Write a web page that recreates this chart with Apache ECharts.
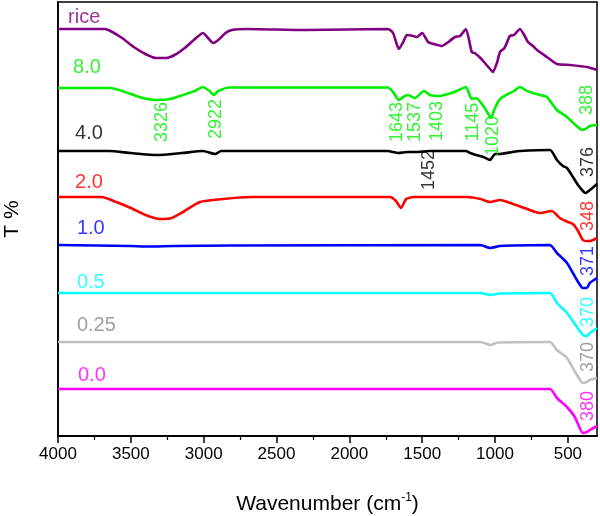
<!DOCTYPE html>
<html><head><meta charset="utf-8">
<script src="https://cdn.jsdelivr.net/npm/echarts@6/dist/echarts.min.js"></script>
<style>html,body{margin:0;padding:0;background:#fff}#c{width:600px;height:516px}</style>
</head><body><div id="c"></div>
<script>
// Wavenumber (cm-1) / offset transmittance pairs
const rice = [[4000,407],[3677,407],[3640,405],[3560,398],[3480,389],[3400,382],[3330,378],[3260,378],[3200,381],[3130,388],[3060,397],[3005,403],[2970,398],[2936,393],[2900,396],[2850,403],[2806,406],[2700,407],[2300,406],[1735,407],[1700,403],[1660,387],[1630,394],[1605,401],[1560,400],[1537,399],[1500,403],[1460,394],[1420,392],[1365,390],[1320,394],[1275,399],[1240,400],[1200,407],[1160,384],[1140,383],[1100,378],[1070,373],[1040,368],[1015,364],[985,374],[966,384],[935,388],[898,400],[870,401],[829,407],[800,401],[774,394],[740,390],[712,386],[644,379],[575,372],[486,371],[370,369],[300,366]];
const s80 = [[4000,348],[3643,348],[3580,346],[3500,342],[3420,338],[3320,336],[3230,337],[3142,341],[3060,345],[3005,349],[2960,345],[2929,341],[2900,345],[2820,348.5],[1735,348.5],[1700,344],[1660,336],[1630,339],[1598,341],[1550,338],[1488,345],[1447,341],[1378,340],[1300,343],[1262,345],[1200,349],[1160,337],[1130,338],[1080,330],[1050,323],[1028,318],[1000,328],[966,337],[911,342],[870,345],[829,349],[780,345],[740,343],[690,341],[644,339],[575,326],[506,319],[440,310],[403,306],[380,307],[349,310],[300,311]];
const s40 = [[4000,285],[3650,285],[3500,283],[3320,281],[3150,283],[3005,285],[2922,282],[2880,285],[1735,285],[1700,284],[1665,283],[1600,284],[1537,284],[1452,285],[1200,285],[1170,283],[1130,281],[1080,279],[1035,276],[1000,282],[966,282],[880,284],[829,285],[623,286],[575,276],[534,270],[506,268],[465,259],[430,251],[397,245],[380,243],[349,246],[300,252]];
const s20 = [[4000,239],[3700,239],[3600,234],[3500,228],[3400,221],[3300,217],[3220,218],[3142,224],[3025,234],[2867,237],[2680,239],[1721,239],[1680,235],[1646,228],[1610,237],[1560,239],[1467,239],[1193,239],[1100,237],[1035,234],[966,236],[877,232],[780,227],[692,223],[610,225],[555,218],[500,214],[465,212],[430,205],[397,196],[370,195],[349,195],[300,198]];
const s10 = [[4000,191],[3500,190],[3400,189.5],[3200,190],[2800,190.5],[1100,191],[1035,188],[966,190],[880,190.5],[623,191],[575,183],[506,173],[438,156],[397,148],[370,148],[349,153],[300,158]];
const s05 = [[4000,143],[1100,143],[1035,141],[966,142.5],[623,143],[575,133],[506,123],[438,109],[397,101],[370,100],[349,103],[300,108]];
const s025 = [[4000,94],[1100,94],[1030,91],[980,93.5],[623,94],[575,86],[506,78],[438,61],[397,53],[370,54],[349,56],[300,58]];
const s00 = [[4000,47],[623,47],[575,38],[506,29],[452,19],[397,3],[370,4],[349,6],[300,10]];

const seriesNames = ['rice','8.0','4.0','2.0','1.0','0.5','0.25','0.0'];
const seriesData = [rice, s80, s40, s20, s10, s05, s025, s00];
// label anchor [wavenumber, value] for each series name
const nameAnchors = [[3931,419],[3897,369],[3883,303],[3883,254],[3870,208],[3870,154],[3870,111],[3863,61]];
// peak annotations: text, anchor, series index (for colour)
const peakText = ['3326','2922','1643','1537','1403','1145','1020','388','1452','376','348','371','370','370','380'];
const peakAnchor = [[3286,314],[2915,317],[1673,314],[1549,314],[1398,315],[1151,314],[1014,300],[369,336],[1453,266],[362,274],[362,220],[362,175],[362,124],[362,79],[362,30]];
const peakSeries = [1,1,1,1,1,1,1,1,2,2,3,4,5,6,7];

const xTicks = [500,1000,1500,2000,2500,3000,3500,4000];
const xMinorTicks = [750,1250,1750,2250,2750,3250,3750];

const lineColors = ['#800080','#00ee00','#000000','#ff0000','#0000ff','#00ffff','#c0c0c0','#ff00ff'];
const textColors = ['#800080','#00ee00','#000000','#ff0000','#0000ff','#00ffff','#888888','#ff00ff'];
const FONT = '"Liberation Sans", Arial, Helvetica, sans-serif';

const series = [];
seriesData.forEach((d, i) => {
  series.push({type:'line', data:d, showSymbol:false, smooth:0.2, silent:true,
    lineStyle:{color:lineColors[i], width:2.6}, z:2});
});
series.push({type:'scatter', symbolSize:0, silent:true, z:5,
  data: nameAnchors.map((p,i)=>({value:p, name:seriesNames[i],
    label:{color:textColors[i]}})),
  label:{show:true, position:'right', distance:0, formatter:'{b}', fontSize:20, fontFamily:FONT}
});
series.push({type:'scatter', symbolSize:0, silent:true, z:5,
  data: peakAnchor.map((p,i)=>({value:p, name:peakText[i],
    label:{color:textColors[peakSeries[i]]}})),
  label:{show:true, position:'inside', rotate:90, formatter:'{b}', fontSize:18, fontFamily:FONT}
});

const chart = echarts.init(document.getElementById('c'), null, {renderer:'canvas'});
chart.setOption({
  animation:false,
  backgroundColor:'#fff',
  grid:{left:58, right:3, top:2, bottom:80, outerBoundsMode:'none', containLabel:false,
    show:true, borderColor:'#000', borderWidth:1.5, backgroundColor:'transparent'},
  xAxis:[{
    type:'value', min:300, max:4000, inverse:true, position:'bottom',
    name:'Wavenumber (cm{sup|-1})', nameLocation:'middle', nameGap:56,
    nameTextStyle:{fontSize:21, color:'#000', fontFamily:FONT,
      rich:{sup:{fontSize:12, verticalAlign:'top', padding:[0,0,12,0], color:'#000', fontFamily:FONT}}},
    axisLine:{show:true, lineStyle:{color:'#000', width:1.8}},
    axisTick:{show:true, length:7, customValues:xTicks, lineStyle:{color:'#000', width:1.5}},
    axisLabel:{show:true, customValues:xTicks, fontSize:17, color:'#000', fontFamily:FONT, margin:10,
      formatter:(v)=>String(v)},
    splitLine:{show:false}
  },{
    type:'value', min:300, max:4000, inverse:true, position:'bottom', gridIndex:0,
    axisLine:{show:false},
    axisTick:{show:true, length:4, customValues:xMinorTicks, lineStyle:{color:'#000', width:1.2}},
    axisLabel:{show:false}, splitLine:{show:false}
  }],
  yAxis:{
    type:'value', min:0, max:434,
    name:'T %', nameLocation:'middle', nameGap:35, nameRotate:90,
    nameTextStyle:{fontSize:21, color:'#000', fontFamily:FONT},
    axisLine:{show:true, lineStyle:{color:'#000', width:1.8}},
    axisTick:{show:false}, axisLabel:{show:false}, splitLine:{show:false}
  },
  series: series
});
</script></body></html>
